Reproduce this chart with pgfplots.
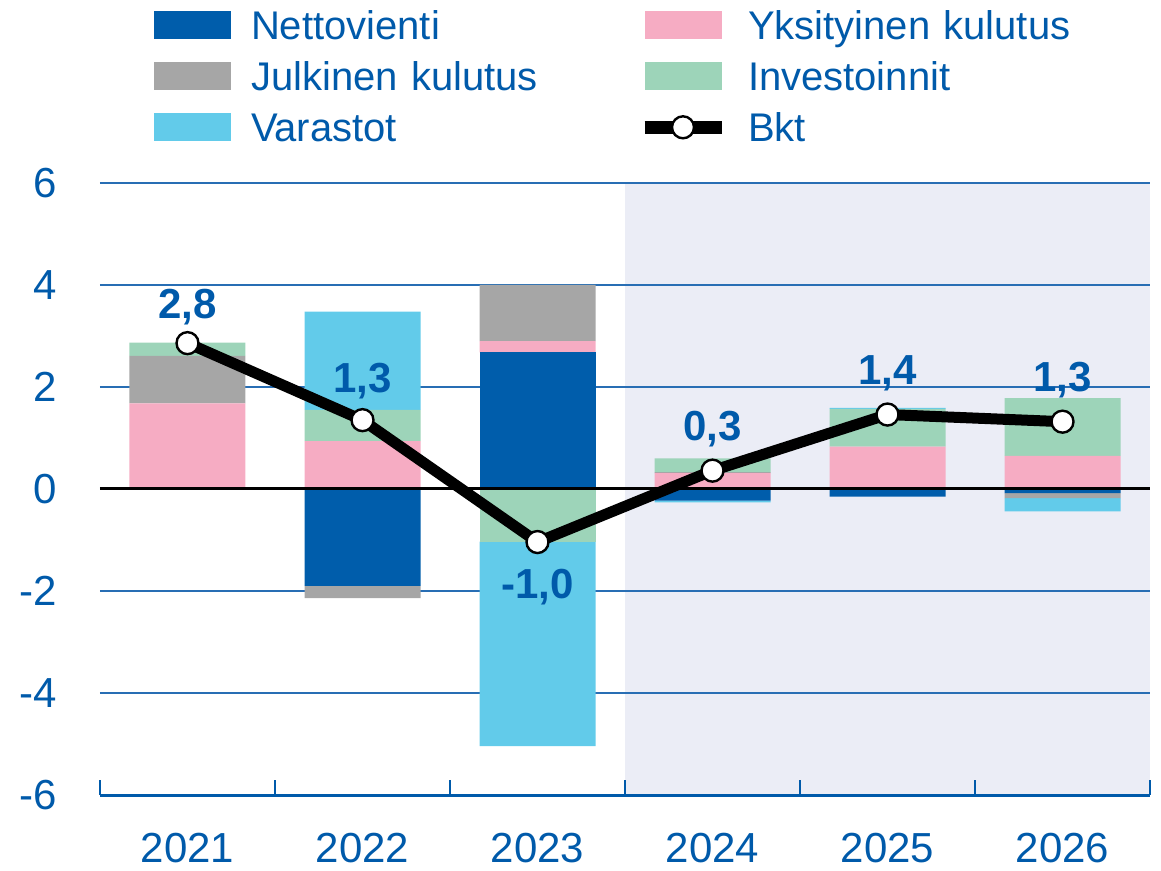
\documentclass[border=0pt]{standalone}
\usepackage{fontspec}
\setmainfont{Liberation Sans}
\usepackage{pgfplots}
\pgfplotsset{compat=1.18}
\definecolor{netto}{RGB}{0,93,171}
\definecolor{yksi}{RGB}{246,172,195}
\definecolor{julk}{RGB}{166,166,166}
\definecolor{inv}{RGB}{157,212,185}
\definecolor{vara}{RGB}{98,203,234}
\definecolor{fcshade}{RGB}{235,237,246}
\definecolor{textblue}{RGB}{0,90,170}
\definecolor{gridblue}{RGB}{40,110,180}
\pgfplotsset{
  base/.style={scale only axis, width=525pt, height=306pt,
    xmin=-0.5, xmax=5.5, ymin=-6, ymax=6},
  barleg/.style={legend image code/.code={\fill[##1] (0pt,-7pt) rectangle (38.5pt,7pt);}},
  lineleg/.style={legend image code/.code={\draw[mark repeat=2, mark phase=2, ##1] plot coordinates {(0pt,0pt) (19.25pt,0pt) (38.5pt,0pt)};}},
}
\begin{document}
\begin{tikzpicture}
% background shading (forecast years)
\begin{axis}[base, hide axis]
\fill[fcshade] (axis cs:2.5,-6) rectangle (axis cs:5.5,6);
\end{axis}
% main axis: grid, ticks, positive contributions
\begin{axis}[base, name=main,
  axis x line*=bottom, axis y line*=left,
  y axis line style={draw=none},
  x axis line style={draw=textblue, line width=1.5pt},
  ytick={-6,-4,-2,0,2,4,6}, yticklabels={-6,-4,-2,0,2,4,6},
  ymajorgrids, grid style={gridblue, line width=1pt},
  xtick={0,1,2,3,4,5}, xticklabels={2021,2022,2023,2024,2025,2026},
  minor xtick={-0.5,0.5,1.5,2.5,3.5,4.5,5.5},
  major tick length=0pt, minor tick length=7.5pt,
  xtick align=inside,
  major x tick style={draw=none},
  minor x tick style={draw=textblue, line width=1.2pt},
  ytick style={draw=none},
  ticklabel style={font=\fontsize{21}{25}\selectfont, text=textblue},
  xticklabel style={inner sep=0pt, anchor=north, yshift=-19pt},
  yticklabel style={inner sep=0pt, anchor=east, xshift=-21.3pt},
  ybar stacked, bar width=58pt,
]
\addplot[fill=netto, draw=none] coordinates {(0,0) (1,0) (2,2.68) (3,0) (4,0) (5,0)};
\addplot[fill=yksi, draw=none] coordinates {(0,1.68) (1,0.94) (2,0.22) (3,0.31) (4,0.83) (5,0.65)};
\addplot[fill=julk, draw=none] coordinates {(0,0.93) (1,0) (2,1.10) (3,0.02) (4,0) (5,0)};
\addplot[fill=inv, draw=none] coordinates {(0,0.26) (1,0.61) (2,0) (3,0.27) (4,0.74) (5,1.13)};
\addplot[fill=vara, draw=none] coordinates {(0,0) (1,1.93) (2,0) (3,0) (4,0.02) (5,0)};
\end{axis}
% negative contributions
\begin{axis}[base, hide axis, ybar stacked, bar width=58pt]
\addplot[fill=netto, draw=none] coordinates {(0,0) (1,-1.90) (2,0) (3,-0.23) (4,-0.15) (5,-0.08)};
\addplot[fill=yksi, draw=none] coordinates {(0,0) (1,0) (2,0) (3,0) (4,0) (5,0)};
\addplot[fill=julk, draw=none] coordinates {(0,0) (1,-0.24) (2,0) (3,0) (4,0) (5,-0.10)};
\addplot[fill=inv, draw=none] coordinates {(0,0) (1,0) (2,-1.03) (3,0) (4,0) (5,0)};
\addplot[fill=vara, draw=none] coordinates {(0,0) (1,0) (2,-4.01) (3,-0.03) (4,0) (5,-0.26)};
\end{axis}
% zero line, GDP line, labels, legend
\begin{axis}[base, hide axis, clip=false,
  legend columns=2, legend cell align=left,
  legend style={at={(0,1)}, anchor=north west, xshift=27pt, yshift=86pt,
    draw=none, fill=none, inner sep=0pt, outer sep=0pt,
    row sep=11.2pt, column sep=10pt,
    font=\fontsize{20}{24}\selectfont, text=textblue,
    nodes={inner sep=0pt, text height=14.3pt, text depth=0pt, text width=183.5pt, align=left}},
]
\draw[black, line width=1.5pt] (axis cs:-0.5,0) -- (axis cs:5.5,0);
\addplot[black, line width=5.5pt, mark=*, mark size=5.5pt,
  mark options={fill=white, draw=black, line width=1.2pt}, forget plot]
  coordinates {(0,2.86) (1,1.35) (2,-1.04) (3,0.36) (4,1.46) (5,1.32)};
\tikzset{lab/.style={font=\bfseries\fontsize{21}{25}\selectfont, text=textblue, anchor=base, inner sep=0pt}}
\node[lab, yshift=12.5pt] at (axis cs:0,2.86) {2,8};
\node[lab, yshift=14pt] at (axis cs:1,1.35) {1,3};
\node[lab, yshift=-28pt] at (axis cs:2,-1.04) {-1,0};
\node[lab, yshift=15pt] at (axis cs:3,0.36) {0,3};
\node[lab, yshift=15pt] at (axis cs:4,1.46) {1,4};
\node[lab, yshift=15pt] at (axis cs:5,1.32) {1,3};
\addlegendimage{fill=netto, draw=none, barleg}
\addlegendentry{Nettovienti}
\addlegendimage{fill=yksi, draw=none, barleg}
\addlegendentry{Yksityinen kulutus}
\addlegendimage{fill=julk, draw=none, barleg}
\addlegendentry{Julkinen kulutus}
\addlegendimage{fill=inv, draw=none, barleg}
\addlegendentry{Investoinnit}
\addlegendimage{fill=vara, draw=none, barleg}
\addlegendentry{Varastot}
\addlegendimage{black, line width=6.5pt, mark=*, mark size=5.5pt,
  mark options={fill=white, draw=black, line width=1.2pt}, lineleg}
\addlegendentry{Bkt}
\end{axis}
\pgfresetboundingbox
\path ([xshift=-50pt, yshift=-37.5pt]main.south west) rectangle ([xshift=5.5pt, yshift=91.5pt]main.north east);
\end{tikzpicture}
\end{document}
